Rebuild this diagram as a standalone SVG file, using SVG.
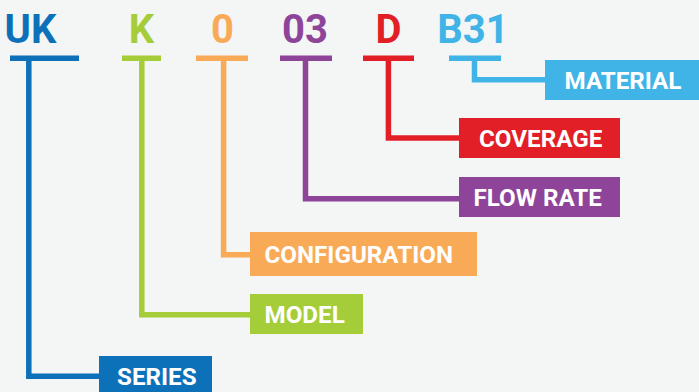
<svg xmlns="http://www.w3.org/2000/svg" width="699" height="392" viewBox="0 0 699 392">
<style>
.code{font-family:Roboto,"Liberation Sans",sans-serif;font-weight:700;font-size:40px;text-anchor:middle}
.lbl{font-family:Roboto,"Liberation Sans",sans-serif;font-weight:700;font-size:24.2px;fill:#ffffff}
.ln{fill:none;stroke-width:5.5;stroke-linecap:butt;stroke-linejoin:miter}
</style>
<rect x="0" y="0" width="699" height="392" fill="#f4f5f5"/>
<g id="codes">
<text class="code" x="30.5" y="42.5" fill="#0c71b9">UK</text>
<text class="code" x="141.5" y="42.5" fill="#a5cd39">K</text>
<text class="code" x="222.5" y="42.5" fill="#f9aa57">0</text>
<text class="code" x="305" y="42.5" fill="#8e4499">03</text>
<text class="code" x="388.5" y="42.5" fill="#e21f26">D</text>
<text class="code" x="473" y="42.5" fill="#40b4e6">B31</text>
</g>
<g id="connectors">
<path class="ln" stroke="#0c71b9" d="M10 58.2H79M28.8 58.2V376.3H100"/>
<path class="ln" stroke="#a5cd39" d="M122 58.2H161M141.8 58.2V314.8H251"/>
<path class="ln" stroke="#f9aa57" d="M196 58.2H248M223.6 58.2V254.8H251"/>
<path class="ln" stroke="#8e4499" d="M280 58.2H332M305.5 58.2V198.8H460"/>
<path class="ln" stroke="#e21f26" d="M363 58.2H414M388.4 58.2V138H460"/>
<path class="ln" stroke="#40b4e6" d="M449 58.2H501M474.5 58.2V79.7H546"/>
</g>
<g id="material">
<rect x="545" y="60" width="154" height="40" fill="#40b4e6"/>
<text class="lbl" x="564.5" y="88.6">MATERIAL</text>
</g>
<g id="coverage">
<rect x="459" y="118" width="161" height="40" fill="#e21f26"/>
<text class="lbl" x="479" y="146.6">COVERAGE</text>
</g>
<g id="flowrate">
<rect x="459" y="177" width="161" height="40" fill="#8e4499"/>
<text class="lbl" x="473.5" y="205.6">FLOW RATE</text>
</g>
<g id="configuration">
<rect x="250" y="232" width="227" height="44" fill="#f9aa57"/>
<text class="lbl" x="264.5" y="262.6">CONFIGURATION</text>
</g>
<g id="model">
<rect x="250" y="294" width="113" height="40" fill="#a5cd39"/>
<text class="lbl" x="264.5" y="322.6">MODEL</text>
</g>
<g id="series">
<rect x="99" y="356" width="113" height="40" fill="#0c71b9"/>
<text class="lbl" x="117" y="384.6">SERIES</text>
</g>
</svg>
